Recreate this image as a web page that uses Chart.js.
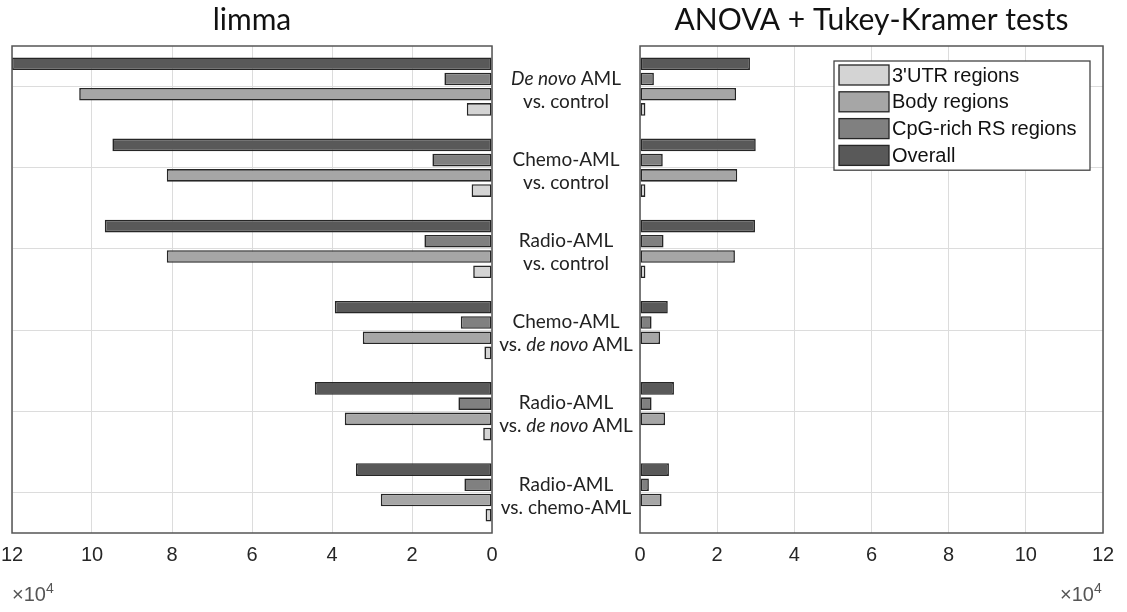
<!DOCTYPE html>
<html>
<head>
<meta charset="utf-8">
<script src="https://cdn.jsdelivr.net/npm/chart.js@4"></script>
<style>
  body { margin: 0; background: #fff; }
  #page { position: relative; width: 1127px; height: 612px; overflow: hidden; }
  .box { position: absolute; top: 0; height: 612px; }
  #leftBox { left: 0; width: 500px; }
  #rightBox { left: 620px; width: 507px; }
  #mid { position: absolute; left: 492px; width: 148px; top: 0; height: 612px; }
  .grp { position: absolute; left: 0; width: 148px; text-align: center;
         font-family: Lato, "Open Sans", sans-serif; font-size: 19px; line-height: 23px; color: #222; }
  .exp { position: absolute; top: 580px; font-family: "Liberation Sans", Arial, sans-serif;
         font-size: 20px; color: #555; }
  .exp sup { font-size: 14px; }
</style>
</head>
<body>
<div id="page">
  <div class="box" id="leftBox"><canvas id="limmaChart"></canvas></div>
  <div class="box" id="rightBox"><canvas id="anovaChart"></canvas></div>
  <div id="mid"></div>
  <div class="exp" style="left:12px">&times;10<sup>4</sup></div>
  <div class="exp" style="left:1060px">&times;10<sup>4</sup></div>
</div>
<script>
// comparisons, top to bottom
const comparisons = ["De novo AML vs. control", "Chemo-AML vs. control", "Radio-AML vs. control",
                     "Chemo-AML vs. de novo AML", "Radio-AML vs. de novo AML", "Radio-AML vs. chemo-AML"];
const comparisonHtml = ["<i>De novo</i> AML<br>vs. control", "Chemo-AML<br>vs. control", "Radio-AML<br>vs. control",
                        "Chemo-AML<br>vs. <i>de novo</i> AML", "Radio-AML<br>vs. <i>de novo</i> AML", "Radio-AML<br>vs. chemo-AML"];

const seriesNames = ["Overall", "CpG-rich RS regions", "Body regions", "3'UTR regions"];
const seriesColors = ["#595959", "#808080", "#a6a6a6", "#d4d4d4"];

// counts in units of 10^4
const limmaOverall = [12.0, 9.49, 9.68, 3.93, 4.43, 3.40];
const limmaCpG     = [1.19, 1.49, 1.69, 0.78, 0.84, 0.69];
const limmaBody    = [10.32, 8.13, 8.13, 3.23, 3.68, 2.78];
const limmaUTR     = [0.63, 0.51, 0.47, 0.19, 0.22, 0.16];

const anovaOverall = [2.85, 3.00, 2.98, 0.72, 0.88, 0.75];
const anovaCpG     = [0.36, 0.59, 0.61, 0.30, 0.30, 0.23];
const anovaBody    = [2.49, 2.52, 2.46, 0.52, 0.65, 0.56];
const anovaUTR     = [0.14, 0.14, 0.14, 0.02, 0.02, 0.02];

const xTicks = [0, 2, 4, 6, 8, 10, 12];

function makeDatasets(values) {
    return values.map((v, i) => ({
        label: seriesNames[i],
        data: v,
        backgroundColor: seriesColors[i],
        borderColor: "#262626",
        borderWidth: 1.6,
        borderSkipped: false,
        categoryPercentage: 0.75,
        barPercentage: 0.83
    }));
}

const framePlugin = {
    id: "frame",
    afterDraw(chart) {
        const a = chart.chartArea, ctx = chart.ctx;
        ctx.save();
        ctx.strokeStyle = "#555";
        ctx.lineWidth = 1.5;
        ctx.strokeRect(a.left, a.top, a.right - a.left, a.bottom - a.top);
        ctx.restore();
    }
};

const boxLegendPlugin = {
    id: "boxLegend",
    afterDraw(chart) {
        if (!chart.options.plugins.boxLegend) return;
        const ctx = chart.ctx;
        const sets = chart.data.datasets.slice().reverse();
        const x = chart.chartArea.right - 269, y = 61, w = 256, rowH = 26.8;
        ctx.save();
        ctx.fillStyle = "#fff";
        ctx.fillRect(x, y, w, rowH * sets.length + 2);
        ctx.strokeStyle = "#444";
        ctx.lineWidth = 1.3;
        ctx.strokeRect(x, y, w, rowH * sets.length + 2);
        ctx.font = "20px 'Liberation Sans', Arial, sans-serif";
        ctx.textBaseline = "middle";
        sets.forEach((ds, i) => {
            const ry = y + 4 + i * rowH;
            ctx.fillStyle = ds.backgroundColor;
            ctx.fillRect(x + 5, ry, 50, 20);
            ctx.strokeStyle = "#262626";
            ctx.strokeRect(x + 5, ry, 50, 20);
            ctx.fillStyle = "#111";
            ctx.fillText(ds.label, x + 58, ry + 11);
        });
        ctx.restore();
    }
};

function buildChart(canvasId, title, values, reverse, padding, legend) {
    return new Chart(document.getElementById(canvasId).getContext("2d"), {
        type: "bar",
        data: { labels: comparisons, datasets: makeDatasets(values) },
        options: {
            indexAxis: "y",
            responsive: true,
            maintainAspectRatio: false,
            animation: false,
            layout: { padding: padding },
            scales: {
                x: {
                    min: 0,
                    max: 12,
                    reverse: reverse,
                    afterBuildTicks: (scale) => { scale.ticks = xTicks.map(v => ({ value: v })); },
                    afterFit: (scale) => { scale.height = 79; },
                    ticks: {
                        padding: 10,
                        color: "#262626",
                        font: { family: "'Liberation Sans', Arial, sans-serif", size: 20 }
                    },
                    grid: { color: "#dcdcdc", drawTicks: false },
                    border: { display: false }
                },
                y: {
                    afterFit: (scale) => { scale.width = 0; },
                    ticks: { display: false },
                    grid: { color: "#dcdcdc", offset: false, drawTicks: false },
                    border: { display: false }
                }
            },
            plugins: {
                legend: { display: false },
                tooltip: { enabled: false },
                boxLegend: legend,
                title: {
                    display: true,
                    text: title,
                    color: "#111",
                    font: { family: "Lato, 'Open Sans', sans-serif", size: 30, weight: "normal" },
                    padding: { top: 2, bottom: 8 }
                }
            }
        },
        plugins: [framePlugin, boxLegendPlugin]
    });
}

buildChart("limmaChart", "limma", [limmaOverall, limmaCpG, limmaBody, limmaUTR], true,
           { left: 12, right: 8, top: 0, bottom: 0 }, false);
buildChart("anovaChart", "ANOVA + Tukey-Kramer tests", [anovaOverall, anovaCpG, anovaBody, anovaUTR], false,
           { left: 20, right: 24, top: 0, bottom: 0 }, true);

// middle comparison labels
const mid = document.getElementById("mid");
comparisonHtml.forEach((html, i) => {
    const d = document.createElement("div");
    d.className = "grp";
    d.style.top = (46 + 81.2 * (i + 0.5) - 21) + "px";
    d.innerHTML = html;
    mid.appendChild(d);
});
</script>
</body>
</html>
